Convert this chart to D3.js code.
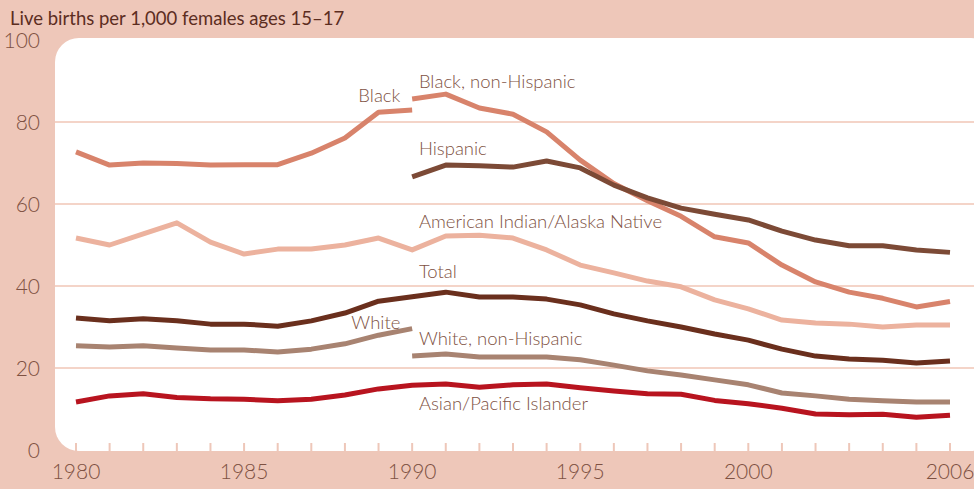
<!DOCTYPE html>
<html>
<head>
<meta charset="utf-8">
<script src="https://cdn.jsdelivr.net/npm/d3@7"></script>
<style>
  body { margin: 0; background: #eec7b9; }
  svg { display: block; }
  text { font-family: Lato, "Open Sans", sans-serif; }
</style>
</head>
<body>
<svg width="974" height="489"></svg>
<script>
// data
var years = d3.range(1980, 2007);
var yearsEarly = d3.range(1980, 1991);
var yearsLate = d3.range(1990, 2007);

var black = [72.7, 69.5, 70.0, 69.9, 69.5, 69.6, 69.6, 72.4, 76.1, 82.4, 82.9];
var blackNonHisp = [85.6, 86.8, 83.4, 81.9, 77.6, 70.7, 65.0, 60.8, 57.0, 52.0, 50.5, 45.1, 41.0, 38.5, 37.0, 34.9, 36.2];
var hispanic = [66.6, 69.5, 69.3, 69.0, 70.5, 68.8, 64.6, 61.5, 59.0, 57.5, 56.1, 53.4, 51.2, 49.8, 49.8, 48.8, 48.2];
var amInd = [51.7, 50.0, 52.7, 55.4, 50.7, 47.8, 49.0, 49.0, 50.0, 51.7, 48.8, 52.2, 52.4, 51.7, 48.8, 45.1, 43.2, 41.2, 39.8, 36.6, 34.4, 31.7, 31.0, 30.7, 30.0, 30.5, 30.5];
var total = [32.2, 31.5, 32.0, 31.5, 30.7, 30.7, 30.2, 31.5, 33.4, 36.3, 37.4, 38.5, 37.3, 37.3, 36.8, 35.4, 33.2, 31.5, 30.0, 28.3, 26.8, 24.6, 22.9, 22.2, 21.9, 21.2, 21.7];
var white = [25.4, 25.1, 25.4, 24.9, 24.4, 24.4, 23.9, 24.6, 25.9, 28.0, 29.6];
var whiteNonHisp = [22.9, 23.4, 22.7, 22.7, 22.7, 22.0, 20.7, 19.3, 18.3, 17.1, 15.9, 13.9, 13.2, 12.4, 12.0, 11.7, 11.7];
var asianPI = [11.7, 13.2, 13.7, 12.8, 12.5, 12.4, 12.0, 12.4, 13.4, 14.9, 15.8, 16.1, 15.3, 15.9, 16.1, 15.2, 14.4, 13.7, 13.6, 12.1, 11.3, 10.2, 8.8, 8.6, 8.7, 8.0, 8.5];

var yTicks = [0, 20, 40, 60, 80, 100];
var xTickLabels = [1980, 1985, 1990, 1995, 2000, 2006];

var series = [
  { name: 'amInd', x: years, y: amInd, color: '#ecb29e' },
  { name: 'black', x: yearsEarly, y: black, color: '#d8836b' },
  { name: 'blackNonHisp', x: yearsLate, y: blackNonHisp, color: '#d8836b' },
  { name: 'hispanic', x: yearsLate, y: hispanic, color: '#7c4a36' },
  { name: 'white', x: yearsEarly, y: white, color: '#a88371' },
  { name: 'whiteNonHisp', x: yearsLate, y: whiteNonHisp, color: '#a88371' },
  { name: 'total', x: years, y: total, color: '#6a2f1d' },
  { name: 'asianPI', x: years, y: asianPI, color: '#b8141f' }
];

// labels: text, anchor year, anchor value, text-anchor
var labels = [
  ['Black', 1989.65, 85.0, 'end'],
  ['Black, non-Hispanic', 1990.2, 88.2, 'start'],
  ['Hispanic', 1990.2, 72.0, 'start'],
  ['American Indian/Alaska Native', 1990.2, 54.2, 'start'],
  ['Total', 1990.2, 42.0, 'start'],
  ['White', 1989.65, 29.4, 'end'],
  ['White, non-Hispanic', 1990.2, 25.5, 'start'],
  ['Asian/Pacific Islander', 1990.2, 9.7, 'start']
];

var svg = d3.select('svg');

var x = d3.scaleLinear().domain([1980, 2006]).range([76, 950]);
var y = d3.scaleLinear().domain([0, 100]).range([450, 40]);

// title
svg.append('text')
  .attr('x', 10)
  .attr('y', 25)
  .attr('fill', '#5c2d1f')
  .style('font-size', '18.5px')
  .text('Live births per 1,000 females ages 15\u201317');

// white plot panel
svg.append('rect')
  .attr('x', 55)
  .attr('y', 38)
  .attr('width', 940)
  .attr('height', 413)
  .attr('rx', 24)
  .attr('fill', '#fff');

// gridlines
svg.append('g')
  .selectAll('line')
  .data(yTicks.filter(function(d) { return d > 0 && d < 100; }))
  .enter().append('line')
  .attr('x1', 55)
  .attr('x2', 974)
  .attr('y1', function(d) { return y(d); })
  .attr('y2', function(d) { return y(d); })
  .attr('stroke', '#f4d4c8')
  .attr('stroke-width', 2);

// year ticks along bottom
svg.append('g')
  .selectAll('line')
  .data(years)
  .enter().append('line')
  .attr('x1', function(d) { return x(d); })
  .attr('x2', function(d) { return x(d); })
  .attr('y1', 443)
  .attr('y2', 451)
  .attr('stroke', '#eec7b9')
  .attr('stroke-width', 2);

// y labels
svg.append('g')
  .selectAll('text')
  .data(yTicks)
  .enter().append('text')
  .attr('x', 40)
  .attr('y', function(d) { return y(d) + 8; })
  .attr('text-anchor', 'end')
  .attr('fill', '#7e5142')
  .style('font-size', '21px')
  .style('font-weight', 300)
  .text(function(d) { return d; });

// x labels
svg.append('g')
  .selectAll('text')
  .data(xTickLabels)
  .enter().append('text')
  .attr('x', function(d) { return x(d); })
  .attr('y', 479)
  .attr('text-anchor', 'middle')
  .attr('fill', '#7e5142')
  .style('font-size', '21px')
  .style('font-weight', 300)
  .text(function(d) { return d; });

var line = d3.line()
  .x(function(d) { return x(d[0]); })
  .y(function(d) { return y(d[1]); });

svg.append('g')
  .selectAll('path')
  .data(series)
  .enter().append('path')
  .attr('d', function(s) { return line(d3.zip(s.x, s.y)); })
  .attr('fill', 'none')
  .attr('stroke', function(s) { return s.color; })
  .attr('stroke-width', 5)
  .attr('stroke-linejoin', 'round');

svg.append('g')
  .selectAll('text')
  .data(labels)
  .enter().append('text')
  .attr('x', function(d) { return x(d[1]); })
  .attr('y', function(d) { return y(d[2]); })
  .attr('text-anchor', function(d) { return d[3]; })
  .attr('fill', '#7e5142')
  .style('font-size', '18.5px')
  .style('font-weight', 300)
  .text(function(d) { return d[0]; });
</script>
</body>
</html>
